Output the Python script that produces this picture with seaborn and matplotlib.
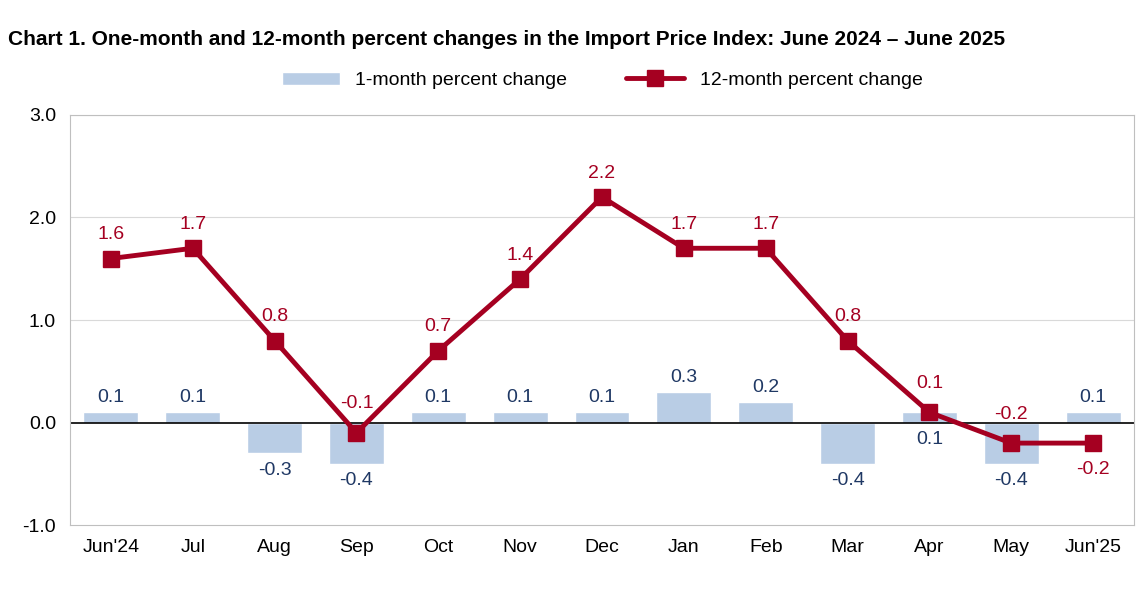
import matplotlib.pyplot as plt
import seaborn as sns
import pandas as pd

months = ["Jun'24", "Jul", "Aug", "Sep", "Oct", "Nov", "Dec", "Jan", "Feb", "Mar", "Apr", "May", "Jun'25"]
one_month = [0.1, 0.1, -0.3, -0.4, 0.1, 0.1, 0.1, 0.3, 0.2, -0.4, 0.1, -0.4, 0.1]
twelve_month = [1.6, 1.7, 0.8, -0.1, 0.7, 1.4, 2.2, 1.7, 1.7, 0.8, 0.1, -0.2, -0.2]

df = pd.DataFrame({'month': months, 'one': one_month, 'twelve': twelve_month})

sns.set_style('white')
plt.rcParams['font.family'] = ['Liberation Sans', 'DejaVu Sans']

fig = plt.figure(figsize=(11.38, 6.05), dpi=100)
ax = fig.add_axes([0.0615, 0.132, 0.935, 0.678])

bar_c = '#b9cde5'
line_c = '#a50021'
navy = '#1f3864'

sns.barplot(data=df, x='month', y='one', color=bar_c, width=0.67, ax=ax,
            label='1-month percent change', saturation=1)
ax.plot(range(len(months)), twelve_month, color=line_c, lw=3.5, marker='s', ms=11,
        label='12-month percent change')

for i, v in enumerate(one_month):
    below = v < 0 or months[i] == 'Apr'
    y = v - 0.08 if v < 0 else (-0.08 if below else v + 0.06)
    ax.text(i, y, f'{v:.1f}', ha='center', va='top' if below else 'bottom',
            color=navy, fontsize=14)
for i, v in enumerate(twelve_month):
    if months[i] == "Jun'25":
        ax.text(i, v - 0.17, f'{v:.1f}', ha='center', va='top', color=line_c, fontsize=14)
    else:
        off = 0.2 if months[i] in ('Sep', 'May', 'Apr') else 0.15
        ax.text(i, v + off, f'{v:.1f}', ha='center', va='bottom', color=line_c, fontsize=14)

ax.set_ylim(-1, 3)
ax.set_xlim(-0.5, 12.5)
ax.set_yticks([-1, 0, 1, 2, 3])
ax.set_yticklabels([f'{t:.1f}' for t in [-1, 0, 1, 2, 3]], fontsize=14, color='black')
ax.tick_params(axis='x', labelsize=14, labelcolor='black', length=0, pad=10)
ax.tick_params(axis='y', length=0, pad=10)
ax.set_xlabel('')
ax.set_ylabel('')
for y in [1, 2, 3]:
    ax.axhline(y, color='#d9d9d9', lw=0.8, zorder=0)
ax.axhline(0, color='black', lw=1.2, zorder=1)
for s in ax.spines.values():
    s.set_color('#bfbfbf')
    s.set_linewidth(0.8)

h, l = ax.get_legend_handles_labels()
order = [l.index('1-month percent change'), l.index('12-month percent change')]
ax.legend([h[k] for k in order], [l[k] for k in order], loc='lower center',
          bbox_to_anchor=(0.5, 1.02), ncol=2, frameon=False,
          fontsize=14, handlelength=3, columnspacing=3, labelcolor='black')
fig.text(0.007, 0.935, 'Chart 1. One-month and 12-month percent changes in the Import Price Index: June 2024 \u2013 June 2025',
         fontsize=15, fontweight='bold', va='center', color='black')

fig.savefig('out.png', dpi=100)
